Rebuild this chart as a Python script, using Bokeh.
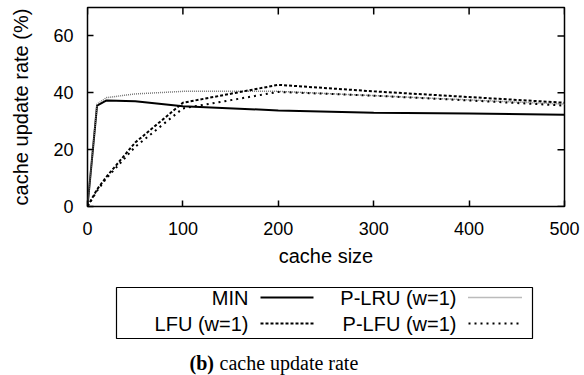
import math
from bokeh.plotting import figure
from bokeh.models import Range1d, FixedTicker, Label, ColumnDataSource
from bokeh.layouts import column
from bokeh.embed import file_html
from bokeh.resources import INLINE

# data
cache_size = [0, 10, 20, 50, 100, 200, 300, 400, 500]
min_rate   = [0, 35.5, 37.3, 37.0, 35.3, 33.8, 33.0, 32.7, 32.3]
lfu_rate   = [0, 6.0, 10.5, 22.5, 36.5, 42.8, 40.5, 38.5, 36.5]
plru_rate  = [0, 36.0, 38.3, 39.6, 40.5, 40.5, 39.0, 37.5, 36.0]
plfu_rate  = [0, 5.5, 10.0, 21.0, 34.5, 40.3, 39.0, 37.3, 35.5]
x_ticks = [0, 100, 200, 300, 400, 500]
y_ticks = [0, 20, 40, 60]
X_MAX, Y_MAX = 500, 70

series = [
    ("MIN", min_rate, dict(line_color="black", line_width=2)),
    ("P-LRU (w=1)", plru_rate, dict(line_color="#777777", line_width=1.5, line_dash="1 1")),
    ("LFU (w=1)", lfu_rate, dict(line_color="black", line_width=2, line_dash="3 2")),
    ("P-LFU (w=1)", plfu_rate, dict(line_color="black", line_width=2, line_dash="2 4")),
]

FONT = "Liberation Sans"
FRAME_W, FRAME_H = 477, 199
TICK_PX = 7

p = figure(width=584, height=270, output_backend="svg", toolbar_location=None,
           x_range=Range1d(0, X_MAX), y_range=Range1d(0, Y_MAX),
           min_border_left=87, min_border_right=20, min_border_top=7, min_border_bottom=64)
p.outline_line_color = "black"
p.outline_line_width = 1.5
p.grid.visible = False

for name, ys, st in series:
    p.line(cache_size, ys, **st)

for ax in (p.xaxis[0], p.yaxis[0]):
    ax.major_tick_in = 6
    ax.major_tick_out = 0
    ax.major_tick_line_color = "black"
    ax.major_tick_line_width = 1.5
    ax.minor_tick_line_color = None
    ax.axis_line_color = None
    ax.major_label_text_font = FONT
    ax.major_label_text_font_size = "18px"
    ax.major_label_text_color = "black"
    ax.axis_label_text_font = FONT
    ax.axis_label_text_font_size = "20px"
    ax.axis_label_text_font_style = "normal"
    ax.axis_label_text_color = "black"
p.xaxis[0].ticker = FixedTicker(ticks=x_ticks)
p.yaxis[0].ticker = FixedTicker(ticks=y_ticks)
p.xaxis[0].axis_label = "cache size"
p.yaxis[0].axis_label = "cache update rate (%)"
p.xaxis[0].major_label_standoff = 15
p.xaxis[0].axis_label_standoff = 7
p.yaxis[0].major_label_standoff = 14
p.yaxis[0].axis_label_standoff = 18

# mirror inward ticks on the top and right frame edges, as short dash markers
dy = Y_MAX * (TICK_PX / 2) / FRAME_H
dx = X_MAX * (TICK_PX / 2) / FRAME_W
p.scatter(x=x_ticks, y=[Y_MAX - dy] * len(x_ticks), marker="dash", size=TICK_PX,
          angle=math.pi / 2, line_color="black", line_width=1.5)
p.scatter(x=[X_MAX - dx] * len(y_ticks), y=y_ticks, marker="dash", size=TICK_PX,
          line_color="black", line_width=1.5)

# legend / caption panel: page-pixel coordinates (x right, y down from panel top)
q = figure(width=584, height=105, output_backend="svg", toolbar_location=None,
           x_range=Range1d(87, 564), y_range=Range1d(105, 0),
           min_border_left=87, min_border_right=20, min_border_top=0, min_border_bottom=0)
q.axis.visible = False
q.grid.visible = False
q.outline_line_color = None

q.quad(left=[116], right=[532], top=[17], bottom=[68],
       fill_color=None, line_color="black", line_width=1.2)

rows = [27, 53]
col_text_right = [248, 456]
col_sample = [(260, 313), (468, 522)]
for i, (name, ys, st) in enumerate(series):
    r, c = [(0, 0), (0, 1), (1, 0), (1, 1)][i]
    y = rows[r]
    q.add_layout(Label(x=col_text_right[c], y=y, text=name, text_align="right",
                       text_baseline="middle", text_font=FONT, text_font_size="20px",
                       text_color="black"))
    x0, x1 = col_sample[c]
    q.line([x0, x1], [y, y], **st)

q.add_layout(Label(x=189, y=92, text="(b)", text_baseline="middle",
                   text_font="Liberation Serif", text_font_size="20px",
                   text_font_style="bold", text_color="black"))
q.add_layout(Label(x=219, y=92, text="cache update rate", text_baseline="middle",
                   text_font="Liberation Serif", text_font_size="20px",
                   text_color="black"))

layout = column(p, q, spacing=0)
open("out.html", "w").write(file_html(layout, INLINE))
